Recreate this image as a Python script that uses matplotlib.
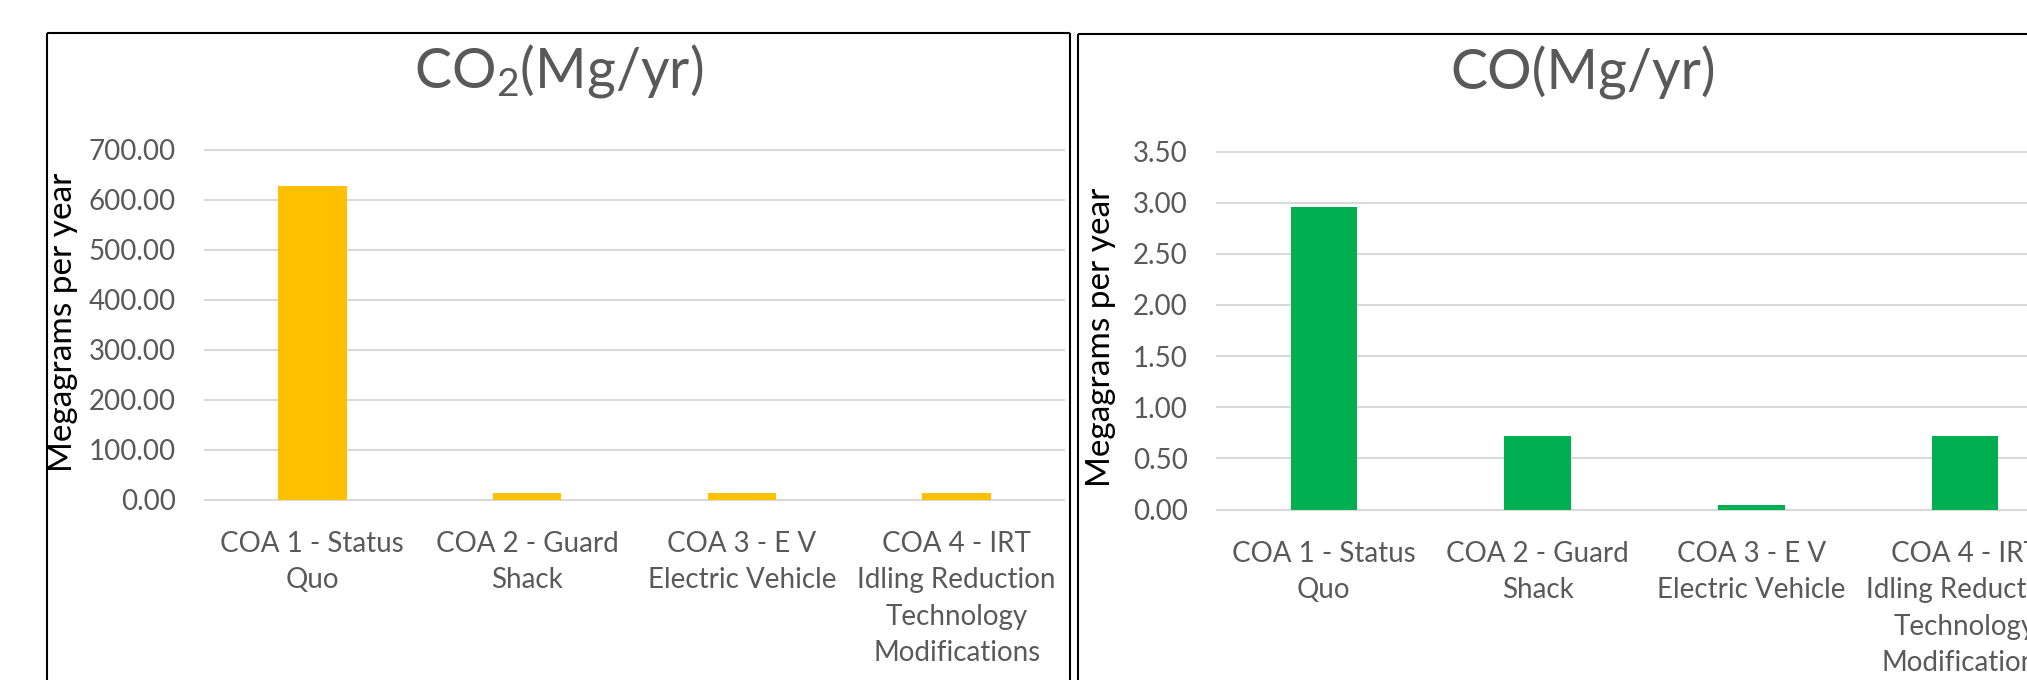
import matplotlib
matplotlib.use("Agg")
import matplotlib.pyplot as plt
from matplotlib.lines import Line2D
import numpy as np

plt.rcParams['font.family'] = ['Lato', 'DejaVu Sans']

# ---- data ----
categories = ["COA 1 - Status\nQuo", "COA 2 - Guard\nShack", "COA 3 - E V\nElectric Vehicle",
              "COA 4 - IRT\nIdling Reduction\nTechnology\nModifications"]
co2_values = [626.5, 13.0, 13.0, 13.0]
co_values = [2.96, 0.72, 0.04, 0.72]
co2_ticks = [0, 100, 200, 300, 400, 500, 600, 700]
co_ticks = [0, 0.5, 1.0, 1.5, 2.0, 2.5, 3.0, 3.5]
co2_title = "CO$\\mathregular{_2}$(Mg/yr)"
co_title = "CO(Mg/yr)"
ylabel = "Megagrams per year"

W, H = 2027, 680
fig = plt.figure(figsize=(W / 100, H / 100), dpi=100)
fig.patch.set_facecolor("white")

def fx(x):
    return x / W

def fy(y):
    return 1 - y / H

GRAY = "#595959"
GRID = "#d9d9d9"

def make_panel(rect, values, ticks, color, bw):
    ax = fig.add_axes(rect)
    x = np.arange(len(values))
    ax.bar(x, values, width=bw, color=color, zorder=3)
    ax.set_xlim(-0.5, len(values) - 0.5)
    ax.set_ylim(ticks[0], ticks[-1])
    ax.set_yticks(ticks)
    ax.set_yticklabels([f"{t:.2f}" for t in ticks])
    ax.set_xticks(x)
    ax.set_xticklabels(categories, linespacing=1.5)
    ax.tick_params(axis='y', length=0, pad=21, labelsize=20, labelcolor=GRAY)
    ax.tick_params(axis='x', length=0, pad=22.5, labelsize=20, labelcolor=GRAY)
    for s in ax.spines.values():
        s.set_visible(False)
    ax.yaxis.grid(True, color=GRID, linewidth=1.5, zorder=0)
    ax.set_axisbelow(True)
    for gl in ax.get_ygridlines():
        gl.set_clip_on(False)
    ax.patch.set_alpha(0)
    return ax

ax1 = make_panel([fx(205), fy(499.5), (1064 - 205) / W, (499.5 - 149.5) / H],
                 co2_values, co2_ticks, "#FFC000", 0.32)
ax2 = make_panel([fx(1217), fy(509.5), (2072 - 1217) / W, (509.5 - 151.5) / H],
                 co_values, co_ticks, "#00B050", 0.31)

# titles
fig.text(fx(559), fy(88), co2_title, ha='center', va='baseline', fontsize=40, color=GRAY)
fig.text(fx(1583), fy(90), co_title, ha='center', va='baseline', fontsize=40, color=GRAY)

# y labels
fig.text(fx(63), fy(322.5), ylabel, rotation=90, ha='center', va='center', fontsize=24, color='black')
fig.text(fx(1101), fy(337), ylabel, rotation=90, ha='center', va='center', fontsize=24, color='black')

# panel borders
def fline(x0, y0, x1, y1):
    fig.add_artist(Line2D([fx(x0), fx(x1)], [fy(y0), fy(y1)], color='black', linewidth=1.5,
                          solid_capstyle='butt'))

fline(47, 32.5, 1070, 32.5)
fline(47, 32.5, 47, 690)
fline(1070, 32.5, 1070, 690)
fline(1078, 33.5, 2040, 33.5)
fline(1078, 33.5, 1078, 690)

fig.savefig("out.png", dpi=100, facecolor="white")
